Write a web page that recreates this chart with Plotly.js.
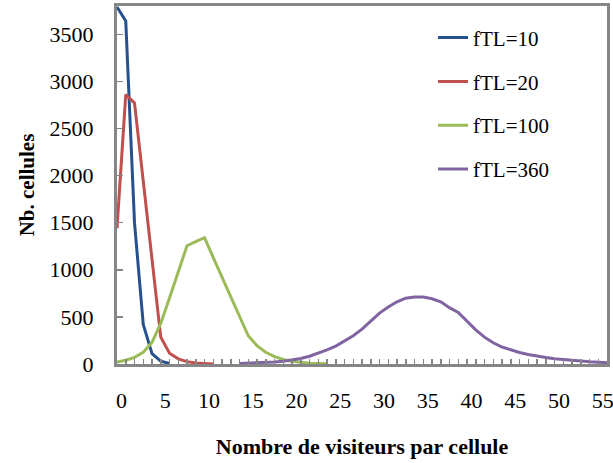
<!DOCTYPE html>
<html>
<head>
<meta charset="utf-8">
<script src="https://cdn.plot.ly/plotly-3.0.1.min.js"></script>
<style>html,body{margin:0;padding:0;background:#fff;}#chart{width:613px;height:463px;}</style>
</head>
<body>
<div id="chart"></div>
<script>
// Category index (tick positions along the x axis)
const xIdx = [0,1,2,3,4,5,6,7,8,9,10,11,12,13,14,15,16,17,18,19,20,21,22,23,24,25,26,27,28,29,30,31,32,33,34,35,36,37,38,39,40,41,42,43,44,45,46,47,48,49,50,51,52,53,54,55,56];
// Tick labels shown every 5 categories (centred between tick marks)
const xLabelAt = [0,5,10,15,20,25,30,35,40,45,50,55];
const xLabels = ['0','5','10','15','20','25','30','35','40','45','50','55'];
const yTicks = [0,500,1000,1500,2000,2500,3000,3500];

const seriesNames = ['fTL=10','fTL=20','fTL=100','fTL=360'];

const fTL10 = [3790,3640,1500,420,110,30,5,
  null,null,null,null,null,null,null,null,null,null,null,null,null,null,null,null,null,null,null,null,null,null,null,null,null,null,null,null,null,null,null,null,null,null,null,null,null,null,null,null,null,null,null,null,null,null,null,null,null,null];

const fTL20 = [1440,2860,2770,1945,1120,285,115,55,25,10,4,0,
  null,null,null,null,null,null,null,null,null,null,null,null,null,null,null,null,null,null,null,null,null,null,null,null,null,null,null,null,null,null,null,null,null,null,null,null,null,null,null,null,null,null,null,null,null];

const fTL100 = [20,40,70,125,230,430,700,975,1255,1300,1341,1130,920,710,500,300,195,125,78,48,28,16,9,5,2,
  null,null,null,null,null,null,null,null,null,null,null,null,null,null,null,null,null,null,null,null,null,null,null,null,null,null,null,null,null,null,null,null];

const fTL360 = [null,null,null,null,null,null,null,null,null,null,null,null,null,null,
  5,8,12,16,22,30,42,58,82,112,150,190,245,300,370,455,540,605,660,699,710,710,692,660,598,548,455,362,285,225,180,150,122,100,82,68,55,45,36,29,23,18,14];

const colors = ['#25528f','#C0504D','#9BBB59','#8064A2'];
const allSeries = [fTL10, fTL20, fTL100, fTL360];

const traces = allSeries.map((vals, i) => ({
  type: 'scatter',
  mode: 'lines',
  x: xIdx,
  y: vals,
  // last series sits on the overlaid axis that carries the per-category tick marks
  xaxis: i === allSeries.length - 1 ? 'x2' : 'x',
  yaxis: 'y',
  name: seriesNames[i],
  legendgroup: 'g' + i,
  line: {color: colors[i], width: 3},
  connectgaps: false,
  hoverinfo: 'skip'
}));

const serif = 'Liberation Serif, serif';
const axisGray = '#868686';

const layout = {
  width: 613,
  height: 463,
  margin: {l: 117, r: 6, t: 6, b: 99},
  paper_bgcolor: '#fff',
  plot_bgcolor: '#fff',
  font: {family: serif, size: 21, color: '#000'},
  showlegend: true,
  legend: {
    x: 0.645, xanchor: 'left',
    y: 0.968, yanchor: 'top',
    bgcolor: 'rgba(0,0,0,0)',
    borderwidth: 0,
    traceorder: 'grouped',
    tracegroupgap: 13.5,
    font: {family: serif, size: 21, color: '#000'}
  },
  xaxis: {
    range: [0, 56],
    tickmode: 'array',
    tickvals: xLabelAt.map(v => v + 0.5),
    ticktext: xLabels,
    ticks: '',
    ticklabelstandoff: 15,
    ticklabeloverflow: 'allow',
    showline: true,
    linecolor: axisGray,
    linewidth: 3,
    mirror: true,
    showgrid: false,
    zeroline: false,
    tickfont: {family: serif, size: 22, color: '#000'},
    title: {text: '<b>Nombre de visiteurs par cellule</b>', font: {family: serif, size: 22, color: '#000'}, standoff: 27}
  },
  xaxis2: {
    overlaying: 'x',
    anchor: 'y',
    side: 'bottom',
    range: [0, 56],
    tickmode: 'linear',
    tick0: 0,
    dtick: 1,
    ticks: 'inside',
    ticklen: 5,
    tickwidth: 1.5,
    tickcolor: axisGray,
    showticklabels: false,
    showline: false,
    showgrid: false,
    zeroline: false
  },
  yaxis: {
    range: [0, 3800],
    tickmode: 'array',
    tickvals: yTicks,
    ticks: 'inside',
    ticklen: 6,
    tickwidth: 1.5,
    tickcolor: axisGray,
    ticklabelstandoff: 16,
    showline: true,
    linecolor: axisGray,
    linewidth: 3,
    mirror: true,
    showgrid: false,
    zeroline: false,
    tickfont: {family: serif, size: 22, color: '#000'},
    title: {text: '<b>Nb. cellules</b>', font: {family: serif, size: 21, color: '#000'}, standoff: 10}
  }
};

Plotly.newPlot('chart', traces, layout, {staticPlot: true, displayModeBar: false});
</script>
</body>
</html>
